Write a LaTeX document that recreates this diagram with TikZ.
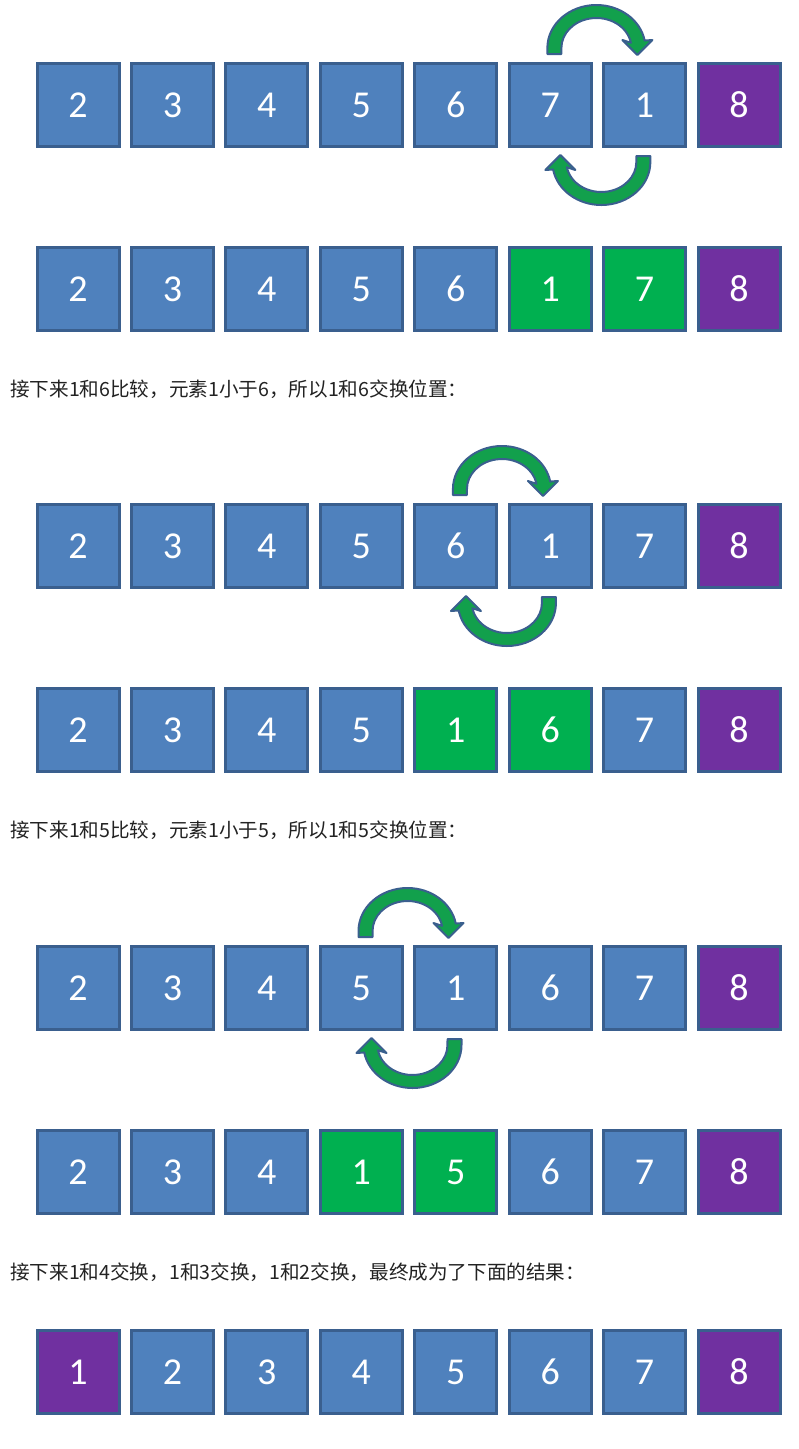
\documentclass[tikz,border=0pt]{standalone}
\usepackage{fontspec}
\setmainfont{Carlito}
\newfontfamily\cjk{Noto Sans CJK SC}
\usetikzlibrary{calc}

\definecolor{boxblue}{HTML}{4F81BD}
\definecolor{boxline}{HTML}{3A5F8E}
\definecolor{boxgreen}{HTML}{00B050}
\definecolor{boxpurple}{HTML}{7030A0}
\definecolor{arrowgreen}{HTML}{12A04C}
\definecolor{notetext}{HTML}{222222}

\tikzset{
	cell/.style={draw=boxline, line width=3pt, minimum width=82pt, minimum height=83pt,
		inner sep=0pt, text=white, font=\fontsize{38}{38}\selectfont},
	swaparrow/.style={fill=arrowgreen, draw=boxline, line width=2pt, line join=round},
	note/.style={anchor=west, inner sep=0pt, text=notetext, font=\cjk\fontsize{19.6}{20}\selectfont}
}

\newcommand{\cellrow}[3]{%
	\foreach \v/\c [count=\i from 0] in {#3}
		\node [cell, fill=\c] (#1-\i) at ({78+94.43*\i}, #2) {\v};
}
\newcommand{\swapshape}{%
	(-50,8) -- (-50,14) arc [start angle=180, end angle=10, x radius=49pt, y radius=43pt]
	-- (55,22) -- (40,7) -- (25,22) -- (33.5,19.2)
	arc [start angle=10, end angle=180, x radius=35pt, y radius=30pt] -- (-36,8) -- cycle
}
\newcommand{\swapover}[2]{%
	\draw [swaparrow, shift={($(#1.north)!0.5!(#2.north)$)}] \swapshape;
	\draw [swaparrow, shift={($(#1.south)!0.5!(#2.south)+(3,0)$)}, rotate=180] \swapshape;
}

\begin{document}
\begin{tikzpicture}[x=1pt, y=1pt]
	\useasboundingbox (0,0) rectangle (799,-1449);
	\cellrow{ra}{-105}{2/boxblue,3/boxblue,4/boxblue,5/boxblue,6/boxblue,7/boxblue,1/boxblue,8/boxpurple}
	\swapover{ra-5}{ra-6}
	\cellrow{rb}{-289}{2/boxblue,3/boxblue,4/boxblue,5/boxblue,6/boxblue,1/boxgreen,7/boxgreen,8/boxpurple}
	\node [note] (notea) at (10,-389) {接下来1和6比较，元素1小于6，所以1和6交换位置：};
	\cellrow{rc}{-546}{2/boxblue,3/boxblue,4/boxblue,5/boxblue,6/boxblue,1/boxblue,7/boxblue,8/boxpurple}
	\swapover{rc-4}{rc-5}
	\cellrow{rd}{-730}{2/boxblue,3/boxblue,4/boxblue,5/boxblue,1/boxgreen,6/boxgreen,7/boxblue,8/boxpurple}
	\node [note] (noteb) at (10,-830) {接下来1和5比较，元素1小于5，所以1和5交换位置：};
	\cellrow{re}{-988}{2/boxblue,3/boxblue,4/boxblue,5/boxblue,1/boxblue,6/boxblue,7/boxblue,8/boxpurple}
	\swapover{re-3}{re-4}
	\cellrow{rf}{-1172}{2/boxblue,3/boxblue,4/boxblue,1/boxgreen,5/boxgreen,6/boxblue,7/boxblue,8/boxpurple}
	\node [note] (notec) at (10,-1272) {接下来1和4交换，1和3交换，1和2交换，最终成为了下面的结果：};
	\cellrow{rg}{-1372}{1/boxpurple,2/boxblue,3/boxblue,4/boxblue,5/boxblue,6/boxblue,7/boxblue,8/boxpurple}
\end{tikzpicture}
\end{document}
